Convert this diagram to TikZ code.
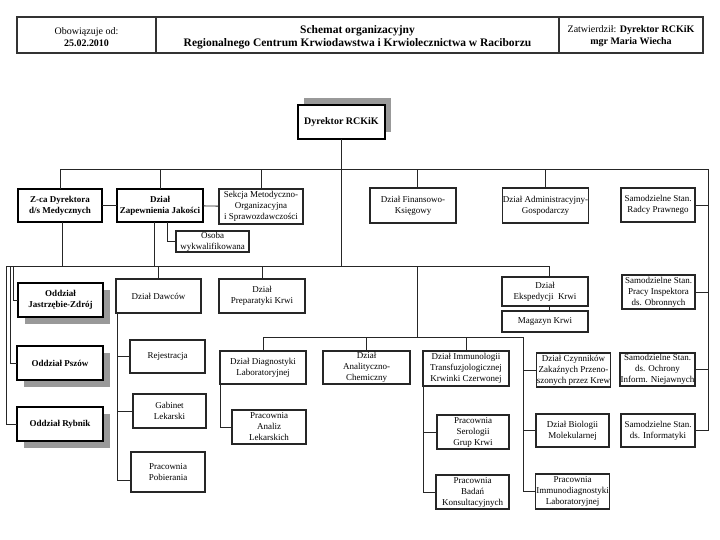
\documentclass[tikz,border=0pt]{standalone}
\usepackage{fontspec}
\setmainfont{Liberation Serif}
\usetikzlibrary{shadows}

\tikzset{
  komorka/.style={draw=black!85, line width=1.1pt, fill=white, align=center,
    inner sep=0.5pt, outer sep=0pt, font=\fontsize{9}{11}\selectfont},
  kierownik/.style={komorka, draw=black, line width=1.8pt,
    font=\fontsize{9}{11}\selectfont\bfseries},
  cien/.style={drop shadow={shadow xshift=7pt, shadow yshift=-7pt, fill=black!40, opacity=1}},
  naglowek/.style={draw=black!80, line width=1.2pt, minimum height=36, inner sep=0pt},
  napis/.style={align=center, inner sep=0pt, font=\fontsize{10}{12}\selectfont},
  linia/.style={draw=black!85, line width=0.9pt},
}

\begin{document}
\begin{tikzpicture}[x=1pt,y=-1pt]
\useasboundingbox (0,0) rectangle (720,540);

% naglowek
\node[naglowek, minimum width=139] (obow) at (86.5,35) {};
\node[naglowek, minimum width=403] (tytul) at (357.5,35) {};
\node[naglowek, minimum width=144] (zatw) at (631,35) {};
\node[napis] (obowtxt) at ([yshift=-2pt]obow.center) {Obowiązuje od:\\\textbf{25.02.2010}};
\node[napis, font=\fontsize{11.5}{12.5}\selectfont\bfseries] (tytultxt) at ([yshift=-2.5pt]tytul.center)
  {Schemat organizacyjny\\Regionalnego Centrum Krwiodawstwa i Krwiolecznictwa w Raciborzu};
\node[napis] (zatwtxt) at ([yshift=-1pt]zatw.center) {Zatwierdził: \textbf{Dyrektor RCKiK}\\\textbf{mgr Maria Wiecha}};

% dyrektor
\node[kierownik, minimum width=87, minimum height=34, font=\fontsize{10}{12}\selectfont\bfseries,
  drop shadow={shadow xshift=6pt, shadow yshift=7pt, fill=black!40, opacity=1}] (dyr) at (341.5,122) {Dyrektor RCKiK};

% pierwszy poziom
\node[kierownik, minimum width=84, minimum height=33] (zca) at (60,205.5) {Z-ca Dyrektora\\d/s Medycznych};
\node[kierownik, minimum width=86, minimum height=33] (zapew) at (160,205.5) {Dział\\Zapewnienia Jakości};
\node[komorka, minimum width=84, minimum height=35] (sekcja) at (261,206.5) {Sekcja Metodyczno-\\Organizacyjna\\i Sprawozdawczości};
\node[komorka, minimum width=73, minimum height=21] (osoba) at (212.5,241.5) {Osoba\\wykwalifikowana};
\node[komorka, minimum width=86, minimum height=35] (fin) at (413,205.5) {Dział Finansowo-\\Księgowy};
\node[komorka, minimum width=85, minimum height=35] (admin) at (545.5,205.5) {Dział Administracyjny-\\Gospodarczy};

% samodzielne stanowiska
\node[komorka, minimum width=74, minimum height=34] (radca) at (658,205) {Samodzielne Stan.\\Radcy Prawnego};
\node[komorka, minimum width=73, minimum height=34] (inspekt) at (658.5,292) {Samodzielne Stan.\\Pracy Inspektora\\ds. Obronnych};
\node[komorka, minimum width=75, minimum height=33] (niejawne) at (657.5,369.5) {Samodzielne Stan.\\ds. Ochrony\\Inform. Niejawnych};
\node[komorka, minimum width=74, minimum height=33] (inform) at (658,430.5) {Samodzielne Stan.\\ds. Informatyki};

% oddzialy terenowe
\node[kierownik, cien, minimum width=85, minimum height=34] (jastrz) at (60.5,300) {Oddział\\Jastrzębie-Zdrój};
\node[kierownik, cien, minimum width=86, minimum height=34] (pszow) at (60,363) {Oddział Pszów};
\node[kierownik, cien, minimum width=86, minimum height=34] (rybnik) at (60,424) {Oddział Rybnik};

% dzialy merytoryczne
\node[komorka, minimum width=85, minimum height=34] (dawcy) at (158.5,296) {Dział Dawców};
\node[komorka, minimum width=75, minimum height=33] (rej) at (167.5,356.5) {Rejestracja};
\node[komorka, minimum width=73, minimum height=34] (gab) at (169.5,411) {Gabinet\\Lekarski};
\node[komorka, minimum width=74, minimum height=40] (pobier) at (168,472) {Pracownia\\Pobierania};
\node[komorka, minimum width=86, minimum height=34] (prep) at (262,296) {Dział\\Preparatyki Krwi};
\node[komorka, minimum width=86, minimum height=29] (eksp) at (545,291.5) {Dział\\Ekspedycji~~Krwi};
\node[komorka, minimum width=86, minimum height=21] (mag) at (545,321.5) {Magazyn Krwi};

% laboratoria
\node[komorka, minimum width=86, minimum height=33] (diag) at (263,367.5) {Dział Diagnostyki\\Laboratoryjnej};
\node[komorka, minimum width=74, minimum height=34] (analiz) at (269,427) {Pracownia\\Analiz\\Lekarskich};
\node[komorka, minimum width=87, minimum height=33] (anal) at (366.5,367.5) {Dział\\Analityczno-\\Chemiczny};
\node[komorka, minimum width=86, minimum height=35] (immun) at (466,368.5) {Dział Immunologii\\Transfuzjologicznej\\Krwinki Czerwonej};
\node[komorka, minimum width=72, minimum height=34] (serol) at (473,432) {Pracownia\\Serologii\\Grup Krwi};
\node[komorka, minimum width=73, minimum height=34] (badan) at (472.5,492) {Pracownia\\Badań\\Konsultacyjnych};
\node[komorka, minimum width=73, minimum height=34] (czyn) at (573.5,370) {Dział Czynników\\Zakaźnych Przeno-\\szonych przez Krew};
\node[komorka, minimum width=73, minimum height=33] (biol) at (572.5,430.5) {Dział Biologii\\Molekularnej};
\node[komorka, minimum width=73, minimum height=35] (immdiag) at (572.5,491.5) {Pracownia\\Immunodiagnostyki\\Laboratoryjnej};

% magistrale
\coordinate (g1) at (60,169);
\coordinate (g2) at (708,169);
\coordinate (d1) at (6,266);
\coordinate (l1) at (417,266);
\coordinate (l2) at (417,337);
\coordinate (l3) at (523,337);

\draw[linia] (g1) -- (g2) -- (g2 |- inform.east) -- (inform.east);
\foreach \n in {radca,inspekt,niejawne}
  \draw[linia] (\n.east) -- (\n.east -| g2);
\draw[linia] (dyr.south) -- (dyr.south |- d1);
\foreach \n in {zca,zapew,sekcja,admin}
  \draw[linia] (\n.north) -- (\n.north |- g1);
\draw[linia] ([xshift=4pt]fin.north) -- ([xshift=4pt]fin.north |- g1);
\draw[linia] (zca) -- (zapew) -- (sekcja);
\draw[linia] ([xshift=7pt]zapew.south) |- (osoba.west);

\draw[linia] ([xshift=2pt]zca.south) -- ([xshift=2pt]zca.south |- d1);
\draw[linia] ([xshift=-6pt]zapew.south) -- ([xshift=-6pt]zapew.south |- d1);
\draw[linia] (d1) -| ([xshift=4pt]eksp.north);
\draw[linia] ([xshift=4pt]eksp.south) -- ([xshift=4pt]mag.north);
\draw[linia] (d1) |- (rybnik.west);
\draw[linia] ([xshift=4pt]d1) |- (pszow.west);
\draw[linia] ([xshift=7pt]d1) |- (jastrz.west);
\foreach \n in {dawcy,prep}
  \draw[linia] (\n.north) -- (\n.north |- d1);

\draw[linia] ([xshift=1pt]dawcy.south west) |- ([yshift=-8pt]pobier.west);
\foreach \n in {rej,gab}
  \draw[linia] ([xshift=1pt]\n.west -| dawcy.south west) -- (\n.west);

\draw[linia] (l1) -- (l2);
\draw[linia] (diag.north) |- (l3) |- (immdiag.west);
\foreach \n in {czyn,biol}
  \draw[linia] (\n.west -| l3) -- (\n.west);
\foreach \n in {anal,immun}
  \draw[linia] (\n.north) -- (\n.north |- l3);
\draw[linia] (diag.south west) |- (analiz.west);
\draw[linia] (immun.south west) |- (badan.west);
\draw[linia] (serol.west -| immun.south west) -- (serol.west);
\end{tikzpicture}
\end{document}
